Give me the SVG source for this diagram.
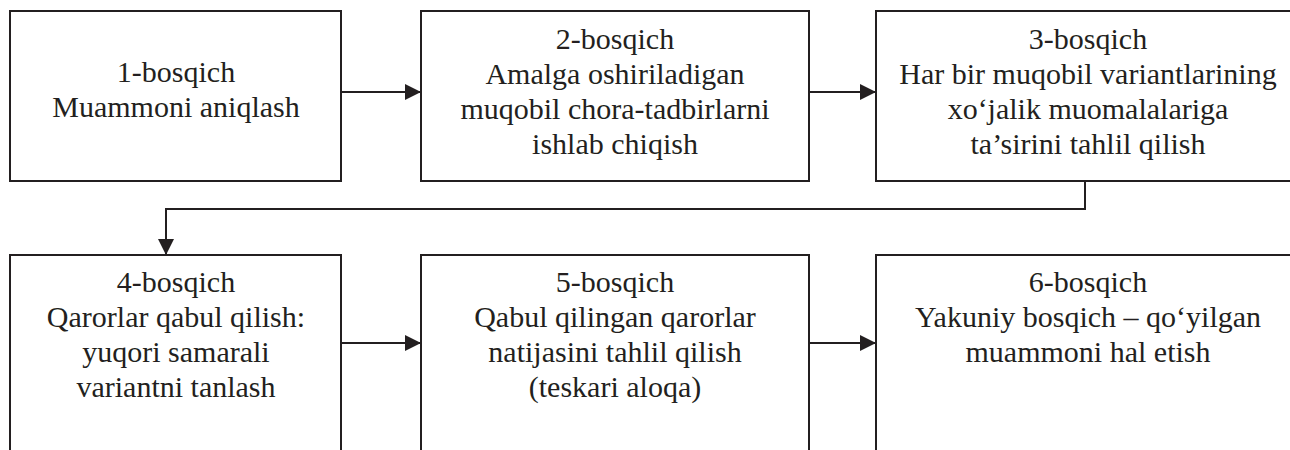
<svg xmlns="http://www.w3.org/2000/svg" width="1290" height="450" viewBox="0 0 1290 450">
  <style>
    .box { fill: #ffffff; stroke: #231f20; stroke-width: 2; }
    .edge { fill: none; stroke: #231f20; stroke-width: 2; }
    .lbl { font-family: "Liberation Serif", "Times New Roman", serif; font-size: 30px; fill: #231f20; text-anchor: middle; }
  </style>
  <defs>
    <marker id="arrow" markerUnits="userSpaceOnUse" markerWidth="16" markerHeight="16" refX="16" refY="8" orient="auto">
      <path d="M0,0 L16,8 L0,16 Z" fill="#231f20"/>
    </marker>
  </defs>

  <rect width="1290" height="450" fill="#ffffff"/>

  <!-- connectors -->
  <g id="connectors">
    <line class="edge" x1="341" y1="92" x2="421" y2="92" marker-end="url(#arrow)"/>
    <line class="edge" x1="809" y1="92" x2="876" y2="92" marker-end="url(#arrow)"/>
    <polyline class="edge" points="1085,181 1085,209 166,209 166,255" marker-end="url(#arrow)"/>
    <line class="edge" x1="341" y1="343" x2="421" y2="343" marker-end="url(#arrow)"/>
    <line class="edge" x1="809" y1="343" x2="876" y2="343" marker-end="url(#arrow)"/>
  </g>

  <!-- stage 1 -->
  <g id="stage1">
    <rect class="box" x="10" y="11" width="331" height="170"/>
    <text class="lbl" x="176" y="82" font-family="Liberation Serif">1-bosqich</text>
    <text class="lbl" x="176" y="117" font-family="Liberation Serif">Muammoni aniqlash</text>
  </g>

  <!-- stage 2 -->
  <g id="stage2">
    <rect class="box" x="421" y="11" width="388" height="170"/>
    <text class="lbl" x="615" y="49" font-family="Liberation Serif">2-bosqich</text>
    <text class="lbl" x="615" y="84" font-family="Liberation Serif">Amalga oshiriladigan</text>
    <text class="lbl" x="615" y="119" font-family="Liberation Serif">muqobil chora-tadbirlarni</text>
    <text class="lbl" x="615" y="154" font-family="Liberation Serif">ishlab chiqish</text>
  </g>

  <!-- stage 3 -->
  <g id="stage3">
    <rect class="box" x="876" y="11" width="430" height="170"/>
    <text class="lbl" x="1088" y="49" font-family="Liberation Serif">3-bosqich</text>
    <text class="lbl" x="1088" y="84" font-family="Liberation Serif">Har bir muqobil variantlarining</text>
    <text class="lbl" x="1088" y="119" font-family="Liberation Serif">xo‘jalik muomalalariga</text>
    <text class="lbl" x="1088" y="154" font-family="Liberation Serif">ta’sirini tahlil qilish</text>
  </g>

  <!-- stage 4 -->
  <g id="stage4">
    <rect class="box" x="10" y="255" width="331" height="210"/>
    <text class="lbl" x="176" y="292" font-family="Liberation Serif">4-bosqich</text>
    <text class="lbl" x="176" y="327" font-family="Liberation Serif">Qarorlar qabul qilish:</text>
    <text class="lbl" x="176" y="362" font-family="Liberation Serif">yuqori samarali</text>
    <text class="lbl" x="176" y="397" font-family="Liberation Serif">variantni tanlash</text>
  </g>

  <!-- stage 5 -->
  <g id="stage5">
    <rect class="box" x="421" y="255" width="388" height="210"/>
    <text class="lbl" x="615" y="292" font-family="Liberation Serif">5-bosqich</text>
    <text class="lbl" x="615" y="327" font-family="Liberation Serif">Qabul qilingan qarorlar</text>
    <text class="lbl" x="615" y="362" font-family="Liberation Serif">natijasini tahlil qilish</text>
    <text class="lbl" x="615" y="397" font-family="Liberation Serif">(teskari aloqa)</text>
  </g>

  <!-- stage 6 -->
  <g id="stage6">
    <rect class="box" x="876" y="255" width="430" height="210"/>
    <text class="lbl" x="1088" y="292" font-family="Liberation Serif">6-bosqich</text>
    <text class="lbl" x="1088" y="327" font-family="Liberation Serif">Yakuniy bosqich – qo‘yilgan</text>
    <text class="lbl" x="1088" y="362" font-family="Liberation Serif">muammoni hal etish</text>
  </g>
</svg>
